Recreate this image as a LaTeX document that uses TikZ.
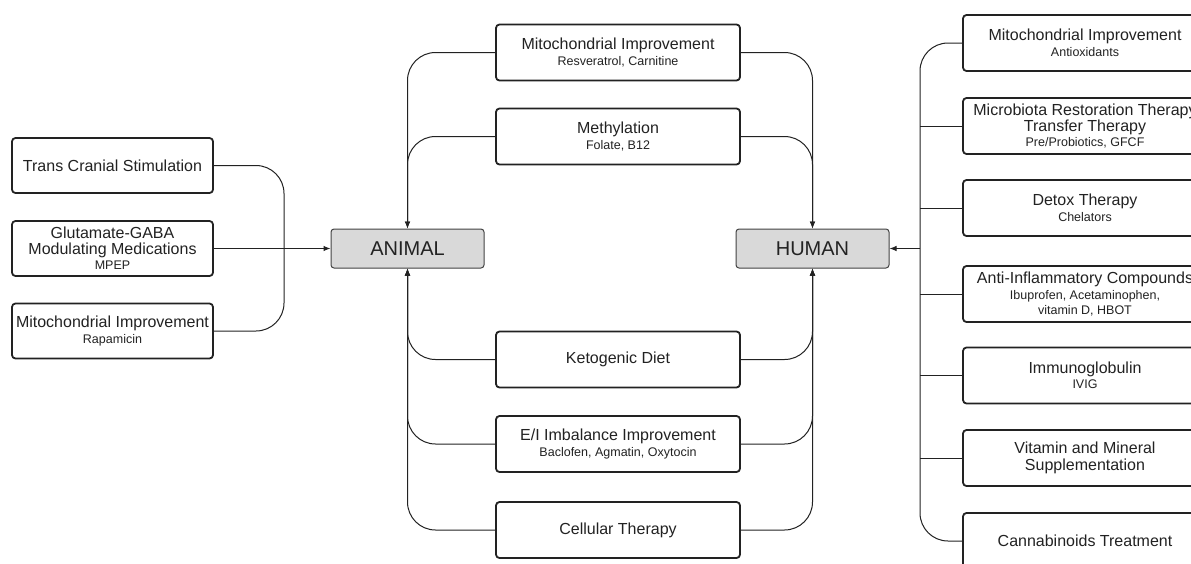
\documentclass[tikz,border=0pt]{standalone}
\usepackage{fontspec}
\setmainfont{Liberation Sans}
\usetikzlibrary{arrows.meta,calc}
\definecolor{ink}{HTML}{222222}
\definecolor{hubfill}{HTML}{D9D9D9}
\newcommand\subt[1]{{\fontsize{12.5}{14.5}\selectfont #1}}
\begin{document}
\begin{tikzpicture}[x=1pt,y=-1pt,
  tbox/.style={draw=ink, line width=1.8pt, rounded corners=3.5pt, fill=white,
    inner sep=0pt, align=center, text=ink,
    font=\fontsize{16}{15.5}\selectfont},
  lbox/.style={tbox, minimum width=201pt, minimum height=55pt},
  cbox/.style={tbox, minimum width=244pt, minimum height=56pt},
  hub/.style={draw=ink!85, line width=1pt, rounded corners=3pt, fill=hubfill,
    inner sep=0pt, minimum width=153pt, minimum height=39pt, text=ink,
    font=\fontsize{20}{22}\selectfont},
  conn/.style={draw=ink, line width=1pt, rounded corners=28pt},
  arr/.style={conn, -{Latex[length=7pt,width=5.5pt]}}
]
\clip (0,0) rectangle (1191,563);
\fill[white] (0,0) rectangle (1191,563);

% hubs
\node[hub] (animal) at (407.5,248.5) {ANIMAL};
\node[hub] (human) at (812.5,248.5) {HUMAN};

% left boxes
\node[lbox] (l1) at (112.5,165.5) {Trans Cranial Stimulation};
\node[lbox] (l2) at (112.5,248.5) {Glutamate-GABA\\Modulating Medications\\\subt{MPEP}};
\node[lbox] (l3) at (112.5,331) {Mitochondrial Improvement\\\subt{Rapamicin}};

% centre boxes
\node[cbox] (c1) at (618,52.5) {Mitochondrial Improvement\\\subt{Resveratrol, Carnitine}};
\node[cbox] (c2) at (618,136.5) {Methylation\\\subt{Folate, B12}};
\node[cbox] (c3) at (618,359.5) {Ketogenic Diet};
\node[cbox] (c4) at (618,444) {E/I Imbalance Improvement\\\subt{Baclofen, Agmatin, Oxytocin}};
\node[cbox] (c5) at (618,530) {Cellular Therapy};

% right boxes
\node[cbox] (r1) at (1085,43) {Mitochondrial Improvement\\\subt{Antioxidants}};
\node[cbox] (r2) at (1085,126) {Microbiota Restoration Therapy\\Transfer Therapy\\\subt{Pre/Probiotics, GFCF}};
\node[cbox] (r3) at (1085,208) {Detox Therapy\\\subt{Chelators}};
\node[cbox] (r4) at (1085,294) {Anti-Inflammatory Compounds\\\subt{Ibuprofen, Acetaminophen,}\\\subt{vitamin D, HBOT}};
\node[cbox] (r5) at (1085,375.5) {Immunoglobulin\\\subt{IVIG}};
\node[cbox] (r6) at (1085,458) {Vitamin and Mineral\\[2pt]Supplementation};
\node[cbox] (r7) at (1085,541) {Cannabinoids Treatment};

% hub coordinates
\coordinate (lh) at (284,248.5);
\coordinate (rh) at (920,248.5);

% left group
\draw[conn] (l1.east) -| (lh) |- (l3.east);
\draw[arr] (l2.east) -- (animal.west);

% centre to animal
\draw[arr] (c1.west) -| (animal.north);
\draw[arr] (c2.west) -| (animal.north);
\draw[arr] (c3.west) -| (animal.south);
\draw[arr] (c4.west) -| (animal.south);
\draw[arr] (c5.west) -| (animal.south);

% centre to human
\draw[arr] (c1.east) -| (human.north);
\draw[arr] (c2.east) -| (human.north);
\draw[arr] (c3.east) -| (human.south);
\draw[arr] (c4.east) -| (human.south);
\draw[arr] (c5.east) -| (human.south);

% right group
\draw[conn] (r1.west) -| (rh) |- (r7.west);
\foreach \r in {r2,r3,r4,r5,r6}
  \draw[conn] (\r.west) -- (\r.west -| rh);
\draw[arr] (rh) -- (human.east);
\end{tikzpicture}
\end{document}
